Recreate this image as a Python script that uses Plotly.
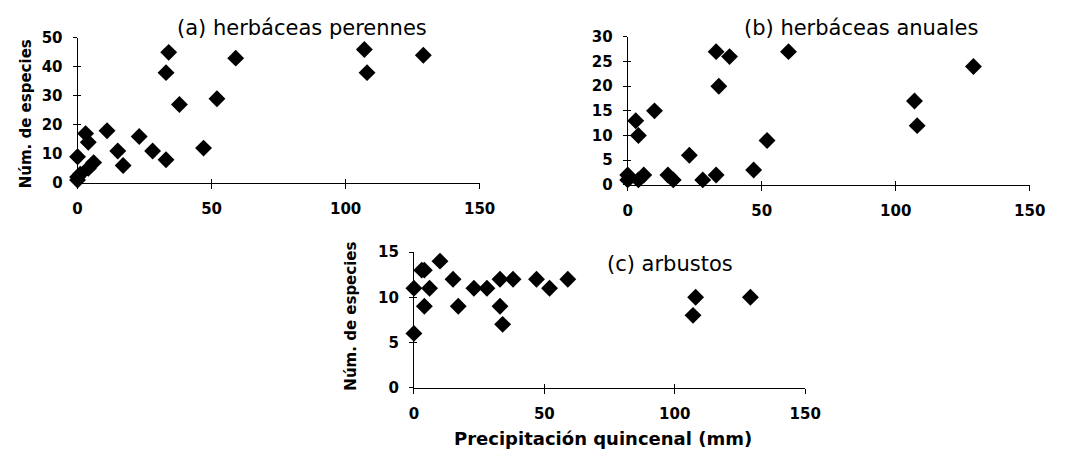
import plotly.graph_objects as go

W, H = 1083, 460

# Precipitación quincenal (mm) and número de especies per group
precip_a = [0, 0, 0, 1, 3, 4, 4, 6, 11, 15, 17, 23, 28, 33, 33, 34, 38, 47, 52, 59, 107, 108, 129]
perennes = [9, 1, 2, 3, 17, 14, 5, 7, 18, 11, 6, 16, 11, 8, 38, 45, 27, 12, 29, 43, 46, 38, 44]

precip_b = [0, 0, 3, 4, 4, 6, 10, 15, 17, 23, 28, 33, 33, 34, 38, 47, 52, 60, 107, 108, 129]
anuales = [2, 1, 13, 10, 1, 2, 15, 2, 1, 6, 1, 2, 27, 20, 26, 3, 9, 27, 17, 12, 24]

precip_c = [0, 0, 3, 4, 4, 6, 10, 15, 17, 23, 28, 33, 33, 34, 38, 47, 52, 59, 107, 108, 129]
arbustos = [6, 11, 13, 13, 9, 11, 14, 12, 9, 11, 11, 9, 12, 7, 12, 12, 11, 12, 8, 10, 10]

x_ticks = [0, 50, 100, 150]
y_ticks_a = [0, 10, 20, 30, 40, 50]
y_ticks_b = [0, 5, 10, 15, 20, 25, 30]
y_ticks_c = [0, 5, 10, 15]

panel_titles = ["(a) herbáceas perennes", "(b) herbáceas anuales", "(c) arbustos"]
y_title = "Núm. de especies"
x_title = "Precipitación quincenal (mm)"

FONT = "DejaVu Sans"


def fx(p):
    return p / W


def fy(p):
    return 1 - p / H


# plot-area boxes in pixels: (left, right, top, bottom)
boxes = [(74, 484, 30, 181), (635, 1045, 29, 183), (417, 816, 253, 394)]
series = [(precip_a, perennes, y_ticks_a), (precip_b, anuales, y_ticks_b), (precip_c, arbustos, y_ticks_c)]

fig = go.Figure()
tick_font = dict(family=FONT, size=15, color="black", weight="bold")

for i, ((l, r, t, b), (xs, ys, yt)) in enumerate(zip(boxes, series)):
    n = i + 1
    xa = "x" if n == 1 else f"x{n}"
    ya = "y" if n == 1 else f"y{n}"
    xkey = "xaxis" if n == 1 else f"xaxis{n}"
    ykey = "yaxis" if n == 1 else f"yaxis{n}"

    # second pair of axes on top of the first, carrying the inner half of each tick
    on = n + 3
    fig.add_trace(go.Scatter(x=[0, 150], y=[0, yt[-1]], xaxis=f"x{on}", yaxis=f"y{on}",
                             mode="markers", marker=dict(opacity=0),
                             showlegend=False, hoverinfo="skip"))
    fig.layout[f"xaxis{on}"] = dict(
        overlaying=xa, anchor=ya, range=[0, 150], tickvals=x_ticks,
        ticks="inside", ticklen=4, tickcolor="black", tickwidth=1, showticklabels=False,
        showline=False, showgrid=False, zeroline=False, fixedrange=True,
    )
    fig.layout[f"yaxis{on}"] = dict(
        overlaying=ya, anchor=xa, range=[0, yt[-1]], tickvals=yt,
        ticks="inside", ticklen=3, tickcolor="black", tickwidth=1, showticklabels=False,
        showline=False, showgrid=False, zeroline=False, fixedrange=True,
    )

    fig.add_trace(go.Scatter(
        x=xs, y=ys, mode="markers", xaxis=xa, yaxis=ya,
        marker=dict(symbol="diamond", size=13, color="black", line=dict(width=0)),
        cliponaxis=False, showlegend=False, hoverinfo="skip",
    ))
    fig.layout[xkey] = dict(
        domain=[fx(l), fx(r)], anchor=ya, range=[0, 150], tickvals=x_ticks,
        showline=True, linecolor="black", linewidth=1, ticks="outside",
        ticklen=5, tickcolor="black", tickwidth=1, showgrid=False, zeroline=False,
        tickfont=tick_font, ticklabelstandoff=7, fixedrange=True,
    )
    fig.layout[ykey] = dict(
        domain=[fy(b), fy(t)], anchor=xa, range=[0, yt[-1]], tickvals=yt,
        showline=True, linecolor="black", linewidth=1, ticks="outside",
        ticklen=4, tickcolor="black", tickwidth=1, showgrid=False, zeroline=False,
        tickfont=tick_font, ticklabelstandoff=7, fixedrange=True,
    )

title_pos = [(303, 20), (873, 20), (678, 265)]
for txt, (px, py) in zip(panel_titles, title_pos):
    fig.add_annotation(text=txt, x=fx(px), y=fy(py), xref="paper", yref="paper",
                       xanchor="center", yanchor="middle", showarrow=False,
                       font=dict(family=FONT, size=21, color="black"))

for px, py in [(21, 109), (353, 320)]:
    fig.add_annotation(text=y_title, x=fx(px), y=fy(py), xref="paper", yref="paper",
                       xanchor="center", yanchor="middle", textangle=-90, showarrow=False,
                       font=dict(family=FONT, size=15, color="black", weight="bold"))

fig.add_annotation(text=x_title, x=fx(610), y=fy(447), xref="paper", yref="paper",
                   xanchor="center", yanchor="middle", showarrow=False,
                   font=dict(family=FONT, size=18, color="black", weight="bold"))

fig.update_layout(
    width=W, height=H, margin=dict(l=0, r=0, t=0, b=0),
    paper_bgcolor="white", plot_bgcolor="white", showlegend=False,
)

fig.write_html("out.html", config={"displayModeBar": False})
